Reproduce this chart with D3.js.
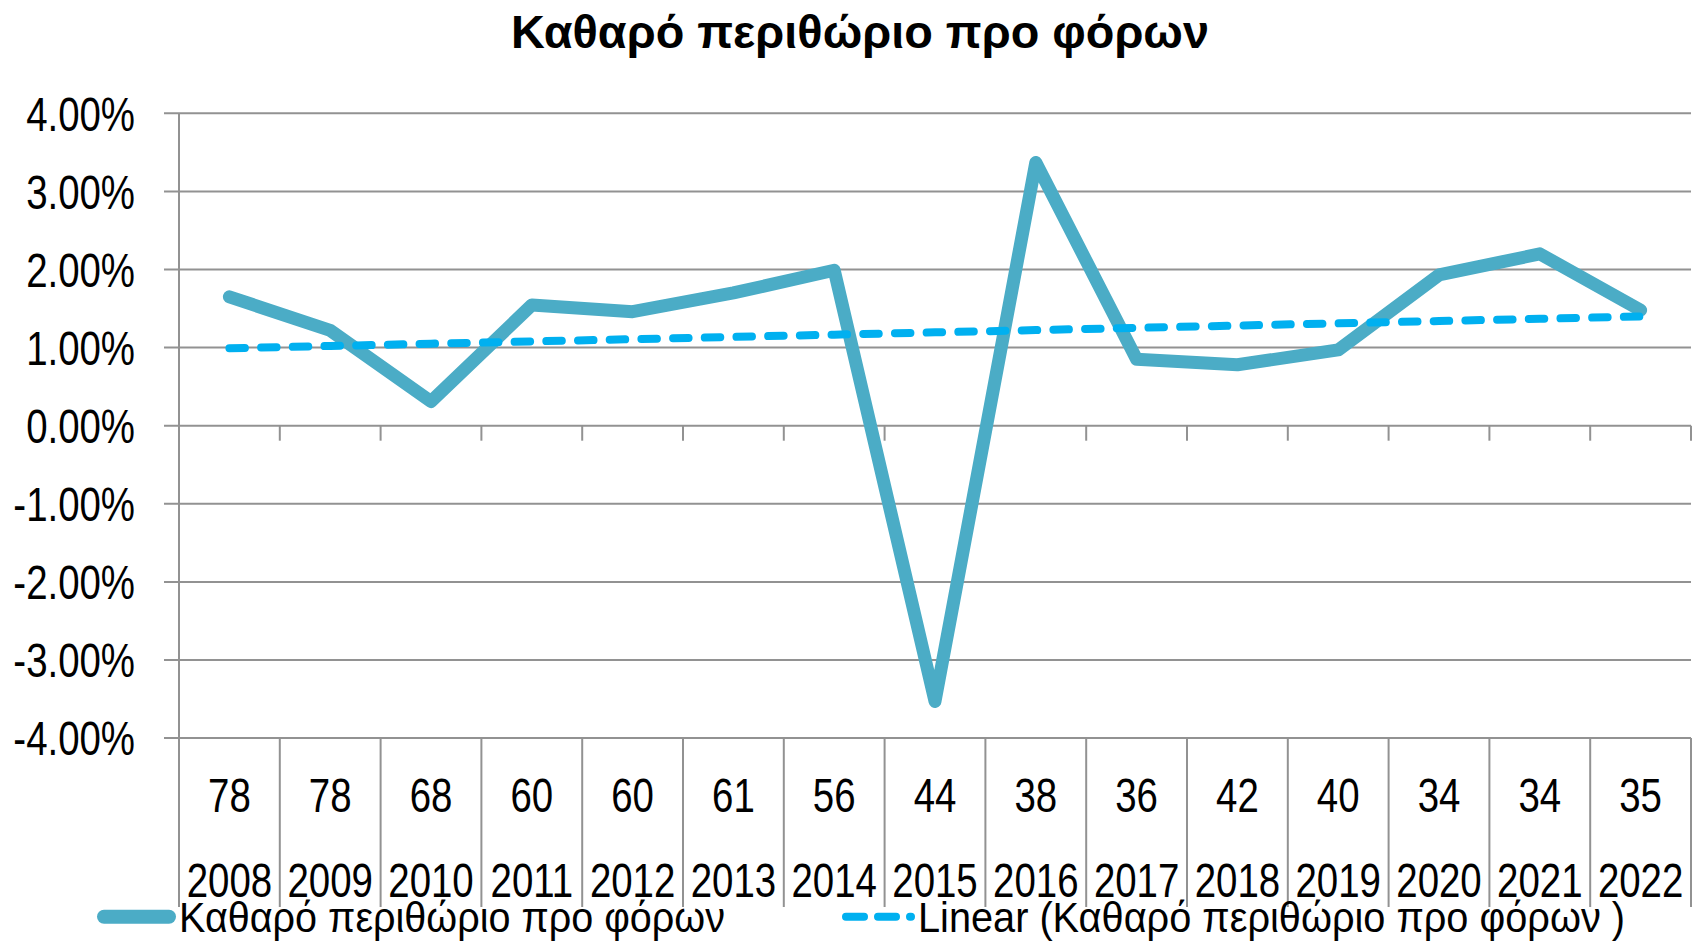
<!DOCTYPE html>
<html>
<head>
<meta charset="utf-8">
<script src="https://cdn.jsdelivr.net/npm/d3@7"></script>
<style>
  html, body { margin: 0; padding: 0; background: #fff; }
  svg { display: block; }
  text { fill: #000; }
</style>
</head>
<body>
<svg id="chart" width="1692" height="943"></svg>
<script>
// ---- data ----
const title = "Καθαρό περιθώριο προ φόρων";
const categories = ["2008","2009","2010","2011","2012","2013","2014","2015","2016","2017","2018","2019","2020","2021","2022"];
const counts = ["78","78","68","60","60","61","56","44","38","36","42","40","34","34","35"];
const values = [1.65, 1.22, 0.31, 1.545, 1.46, 1.70, 1.99, -3.53, 3.37, 0.85, 0.78, 0.97, 1.93, 2.20, 1.48];
const yTicks = [4, 3, 2, 1, 0, -1, -2, -3, -4];
const seriesName = "Καθαρό περιθώριο προ φόρων";
const trendName = "Linear (Καθαρό περιθώριο προ φόρων )";

// ---- layout ----
const plotLeft = 179, plotRight = 1691;
const yTop = 113.3, yBottom = 738.1;
const font = "'Liberation Sans', Arial, sans-serif";
const squeeze = 0.8;          // narrow (condensed) look of the original labels
const gridColor = "#929292";
const lineColor = "#4BACC6";
const trendColor = "#00B0F0";

const svg = d3.select("#chart");

const x = d3.scaleBand().domain(categories).range([plotLeft, plotRight]).padding(0);
const y = d3.scaleLinear().domain([-4, 4]).range([yBottom, yTop]);

// linear trendline (least squares fit, as the spreadsheet computes it)
const n = values.length;
const xs = d3.range(n);
const mx = d3.mean(xs), my = d3.mean(values);
const slope = d3.sum(xs, (d, i) => (d - mx) * (values[i] - my)) / d3.sum(xs, d => (d - mx) * (d - mx));
const intercept = my - slope * mx;
const trend = xs.map(i => intercept + slope * i);

const pct = d3.formatLocale({decimal: ".", thousands: ",", grouping: [3], currency: ["", ""], minus: "-"}).format(".2f");

// condensed text helper
function narrowText(sel, px, py, anchor, size) {
  const g = sel.append("g").attr("transform", `translate(${px},${py}) scale(${squeeze},1)`);
  return g.append("text")
    .attr("text-anchor", anchor)
    .attr("font-family", font).attr("font-size", size);
}

// ---- gridlines ----
svg.append("g").selectAll("line").data(yTicks).join("line")
  .attr("x1", plotLeft - 15).attr("x2", plotRight)
  .attr("y1", d => y(d)).attr("y2", d => y(d))
  .attr("stroke", gridColor).attr("stroke-width", 2);

// y axis line
svg.append("line")
  .attr("x1", plotLeft).attr("x2", plotLeft)
  .attr("y1", yTop).attr("y2", 907)
  .attr("stroke", gridColor).attr("stroke-width", 2);

const bounds = categories.map(c => x(c)).concat([plotRight]);

// tick marks on the zero line
svg.append("g").selectAll("line").data(bounds.slice(1)).join("line")
  .attr("x1", d => d).attr("x2", d => d)
  .attr("y1", y(0)).attr("y2", y(0) + 15)
  .attr("stroke", gridColor).attr("stroke-width", 2);

// multi-level category separators below the plot
svg.append("g").selectAll("line").data(bounds.slice(1)).join("line")
  .attr("x1", d => d).attr("x2", d => d)
  .attr("y1", yBottom).attr("y2", 907)
  .attr("stroke", gridColor).attr("stroke-width", 2);

// ---- y tick labels ----
const yl = svg.append("g");
yTicks.forEach(t => {
  narrowText(yl, 135, y(t), "end", 48).attr("dy", "0.36em").text(pct(t) + "%");
});

// ---- category labels ----
const cl = svg.append("g");
categories.forEach((c, i) => {
  const cxp = x(c) + x.bandwidth() / 2;
  narrowText(cl, cxp, 794.5, "middle", 48).attr("dy", "0.36em").text(counts[i]);
  narrowText(cl, cxp, 880, "middle", 48).attr("dy", "0.36em").text(c);
});

// ---- series ----
const cx = (d, i) => x(categories[i]) + x.bandwidth() / 2;

svg.append("path")
  .datum(values)
  .attr("d", d3.line().x(cx).y(d => y(d)))
  .attr("fill", "none").attr("stroke", lineColor).attr("stroke-width", 13)
  .attr("stroke-linejoin", "round").attr("stroke-linecap", "round");

svg.append("path")
  .datum(trend)
  .attr("d", d3.line().x(cx).y(d => y(d)))
  .attr("fill", "none").attr("stroke", trendColor).attr("stroke-width", 8)
  .attr("stroke-dasharray", "15.5 16.2").attr("stroke-linecap", "round");

// ---- title ----
svg.append("text")
  .attr("x", 511).attr("y", 48)
  .attr("font-family", font)
  .attr("font-weight", "bold").attr("font-size", 47)
  .attr("textLength", 698).attr("lengthAdjust", "spacingAndGlyphs")
  .text(title);

// ---- legend ----
svg.append("line")
  .attr("x1", 104).attr("x2", 169).attr("y1", 916.7).attr("y2", 916.7)
  .attr("stroke", lineColor).attr("stroke-width", 14).attr("stroke-linecap", "round");
svg.append("text")
  .attr("x", 179).attr("y", 932)
  .attr("font-family", font).attr("font-size", 42)
  .attr("textLength", 546).attr("lengthAdjust", "spacingAndGlyphs")
  .text(seriesName);

svg.append("line")
  .attr("x1", 846).attr("x2", 911).attr("y1", 916.7).attr("y2", 916.7)
  .attr("stroke", trendColor).attr("stroke-width", 8)
  .attr("stroke-dasharray", "18 14").attr("stroke-linecap", "round");
svg.append("text")
  .attr("x", 918).attr("y", 932)
  .attr("font-family", font).attr("font-size", 42)
  .attr("textLength", 707).attr("lengthAdjust", "spacingAndGlyphs")
  .text(trendName);
</script>
</body>
</html>
